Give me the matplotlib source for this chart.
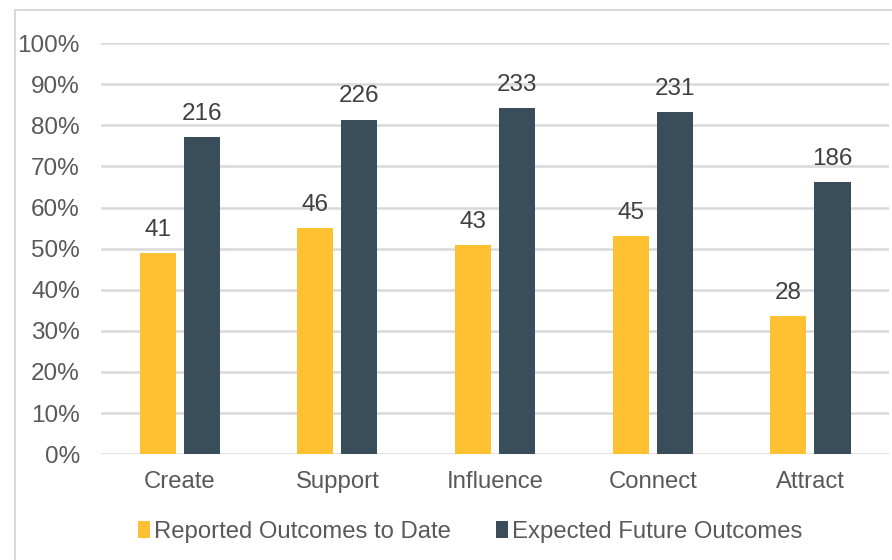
import matplotlib.pyplot as plt
import numpy as np
from matplotlib.patches import Rectangle
from matplotlib.ticker import PercentFormatter

plt.rcParams['font.family'] = ['Liberation Sans', 'DejaVu Sans']

categories = ["Create", "Support", "Influence", "Connect", "Attract"]
reported_pct = [48.9, 55.0, 50.8, 53.0, 33.6]
expected_pct = [77.1, 81.3, 84.2, 83.2, 66.2]
reported_n = [41, 46, 43, 45, 28]
expected_n = [216, 226, 233, 231, 186]

yellow = "#FFC032"
slate = "#394E5A"

fig = plt.figure(figsize=(8.92, 5.6), dpi=100)
ax = fig.add_axes([0.113, 0.189, 0.884, 0.734])

x = np.arange(len(categories))
w = 0.229
gap = 0.051
b1 = ax.bar(x - (w + gap) / 2, np.array(reported_pct) / 100, w, color=yellow,
            label="Reported Outcomes to Date", zorder=3)
b2 = ax.bar(x + (w + gap) / 2, np.array(expected_pct) / 100, w, color=slate,
            label="Expected Future Outcomes", zorder=3)
ax.bar_label(b1, labels=[str(v) for v in reported_n], padding=9, fontsize=17.5, color="#404040")
ax.bar_label(b2, labels=[str(v) for v in expected_n], padding=9, fontsize=17.5, color="#404040")

ax.set_xlim(-0.5, len(categories) - 0.5)
ax.set_ylim(0, 1.0)
ax.set_yticks(np.arange(0, 1.01, 0.1))
ax.yaxis.set_major_formatter(PercentFormatter(1.0, decimals=0))
ax.set_xticks(x)
ax.set_xticklabels(categories)
ax.tick_params(axis='y', length=0, pad=15, labelsize=17.5, labelcolor="#595959")
ax.tick_params(axis='x', length=0, pad=12, labelsize=17.2, labelcolor="#595959")
ax.grid(axis='y', color="#D9D9D9", linewidth=1.8, zorder=0)
for s in ax.spines.values():
    s.set_visible(False)

fig.legend(loc='center', bbox_to_anchor=(0.527, 0.05), ncol=2, frameon=False,
           fontsize=17.2, handlelength=0.5, handleheight=0.75, handletextpad=0.15,
           columnspacing=1.9, labelcolor="#595959")

fig.patches.append(Rectangle((15 / 892, -0.1), 1.2, 1 - 10 / 560 + 0.1,
                             transform=fig.transFigure, fill=False,
                             edgecolor="#D9D9D9", linewidth=1.5))

fig.savefig("out.png", dpi=100)
